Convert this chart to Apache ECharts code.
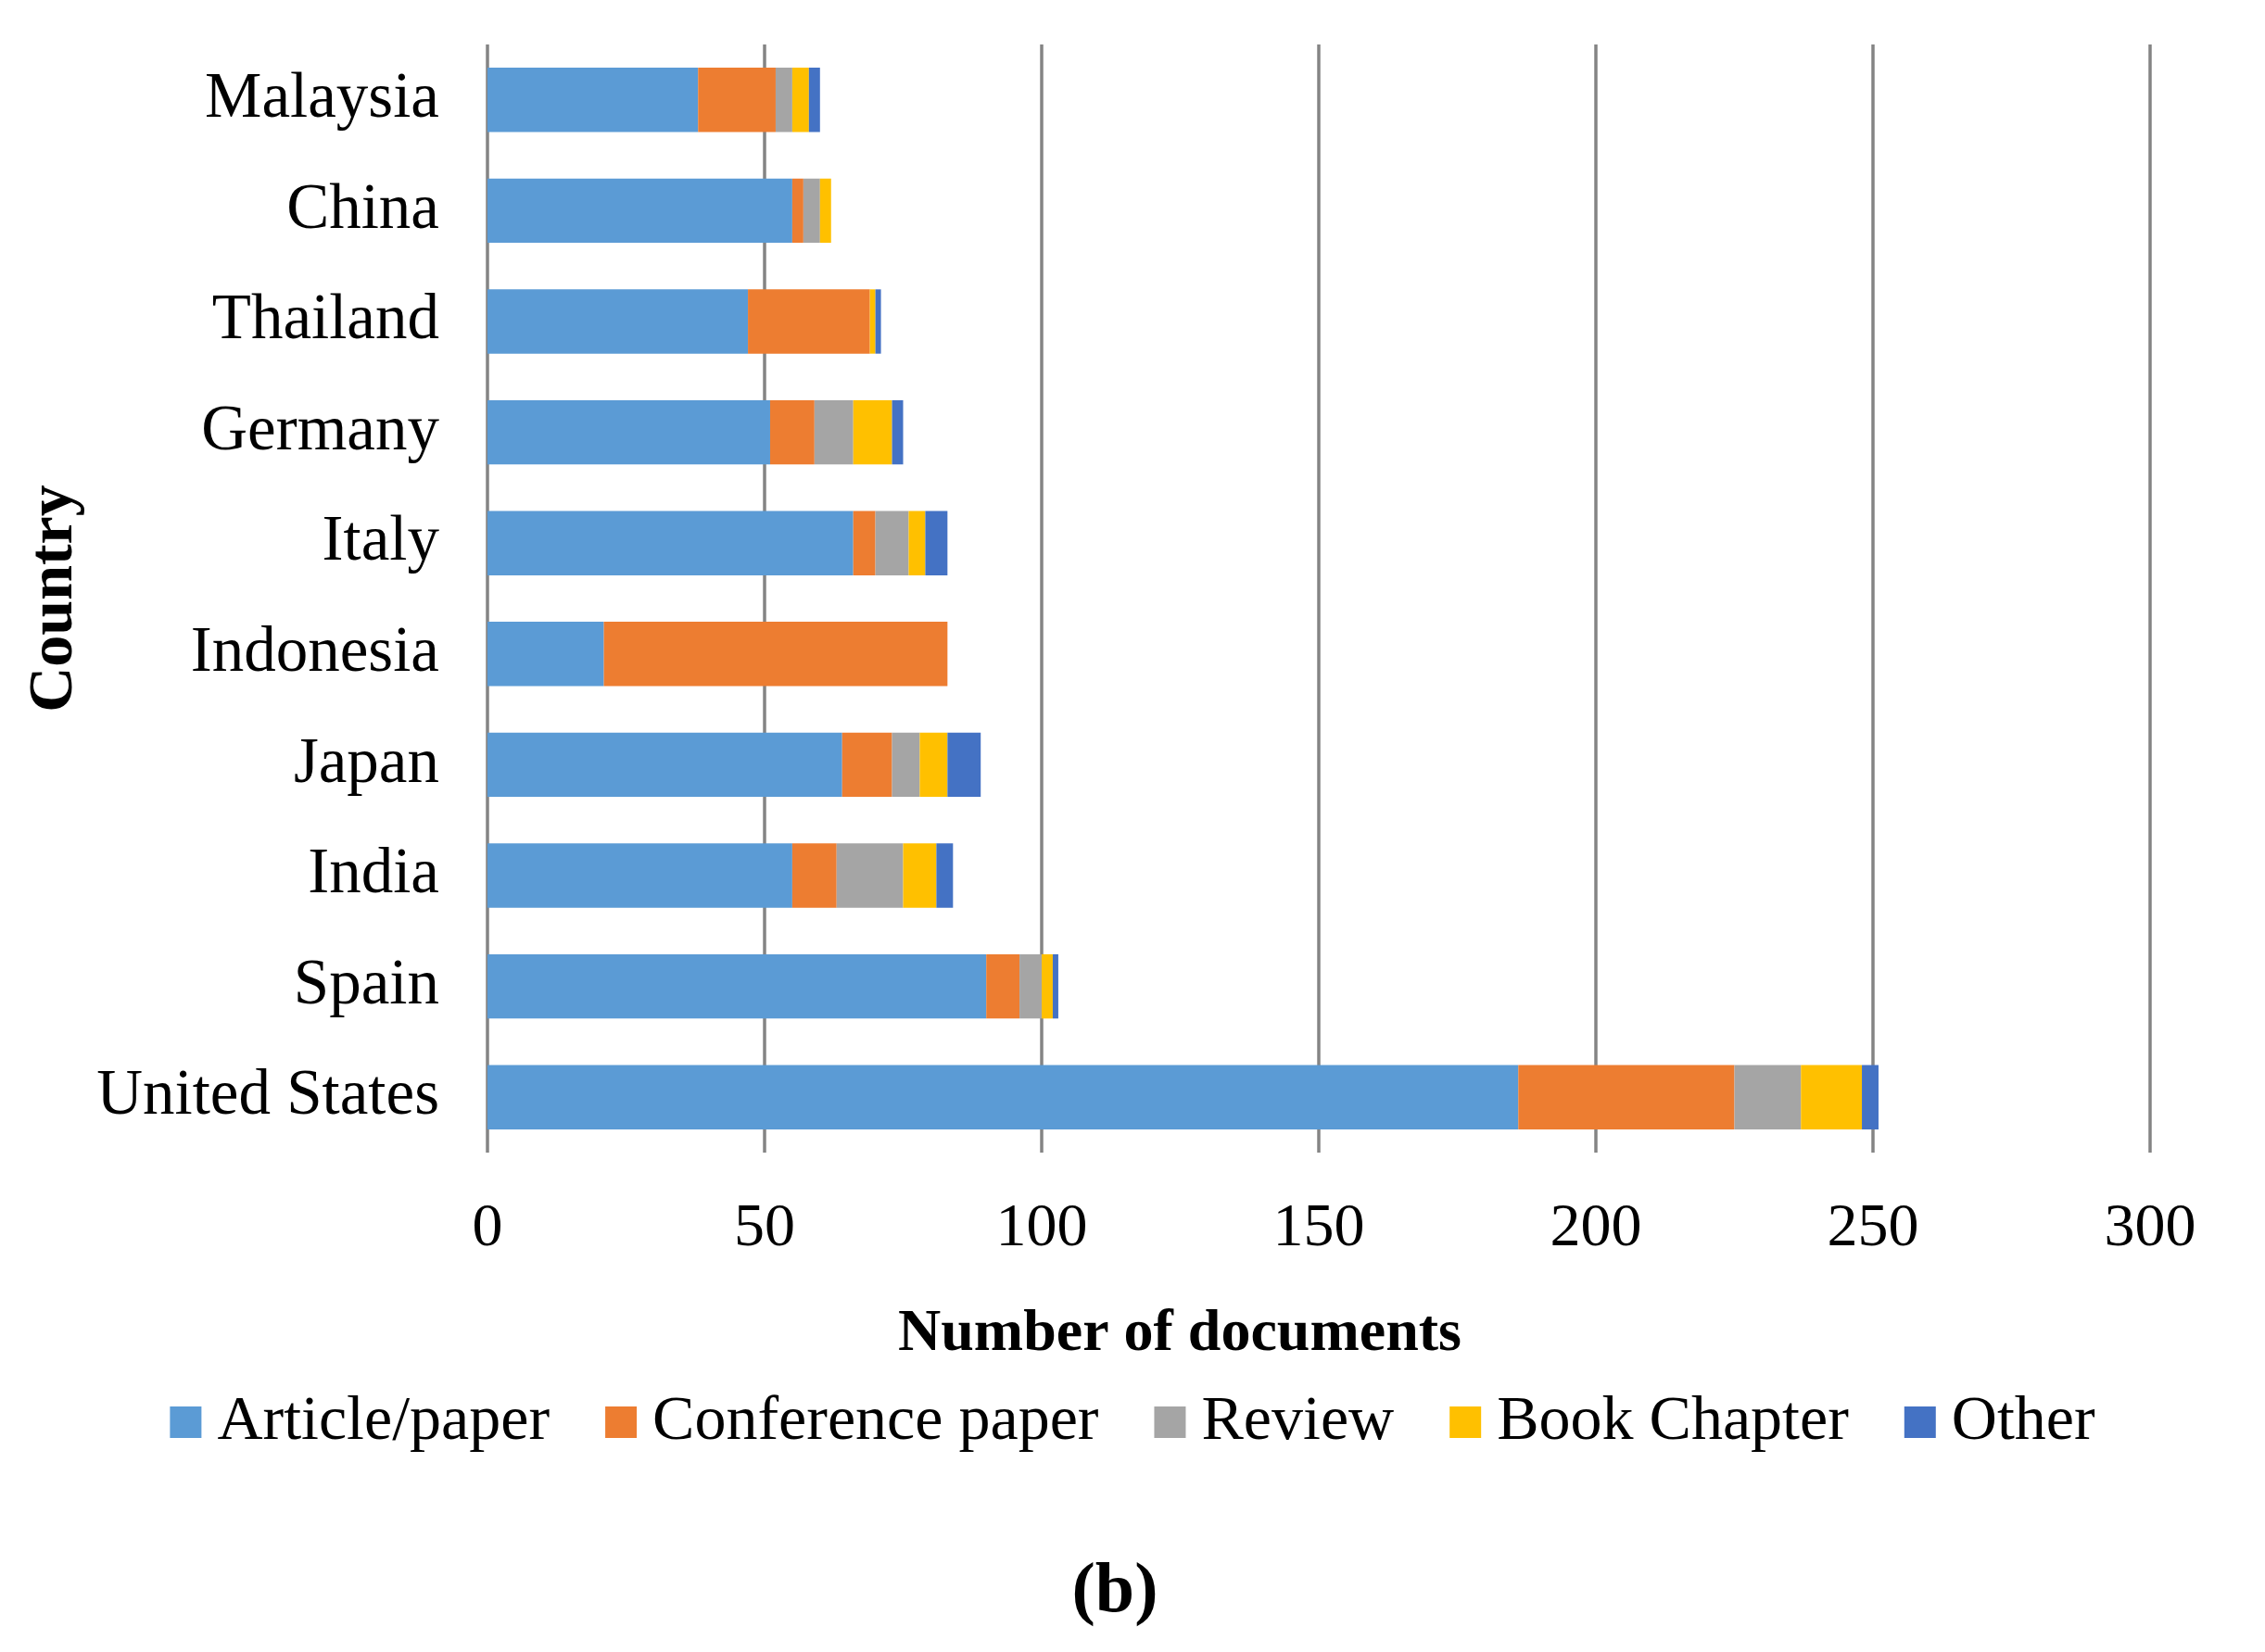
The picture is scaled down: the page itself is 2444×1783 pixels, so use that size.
<!DOCTYPE html>
<html>
<head>
<meta charset="utf-8">
<script src="https://cdn.jsdelivr.net/npm/echarts@6/dist/echarts.min.js"></script>
<style>
html,body{margin:0;padding:0;background:#fff;}
#chart{width:2444px;height:1783px;}
</style>
</head>
<body>
<div id="chart"></div>
<script>
// Categories listed bottom-to-top (ECharts category y-axis starts at the bottom)
var countries = ['United States','Spain','India','Japan','Indonesia','Italy','Germany','Thailand','China','Malaysia'];
var articlePaper    = [186, 90, 55, 64, 21, 66, 51, 47, 55, 38];
var conferencePaper = [ 39,  6,  8,  9, 62,  4,  8, 22,  2, 14];
var review          = [ 12,  4, 12,  5,  0,  6,  7,  0,  3,  3];
var bookChapter     = [ 11,  2,  6,  5,  0,  3,  7,  1,  2,  3];
var other           = [  3,  1,  3,  6,  0,  4,  2,  1,  0,  2];
var seriesNames = ['Article/paper','Conference paper','Review','Book Chapter','Other'];
var xTicks = [0, 50, 100, 150, 200, 250, 300];

var colors = ['#5B9BD5','#ED7D31','#A5A5A5','#FFC000','#4472C4'];
var seriesData = [articlePaper, conferencePaper, review, bookChapter, other];
var font = 'Liberation Serif, Times New Roman, serif';

var chart = echarts.init(document.getElementById('chart'), null, {renderer:'canvas'});
var series = seriesNames.map(function(name, i){
  return {
    name: name,
    type: 'bar',
    stack: 'total',
    data: seriesData[i],
    itemStyle: {color: colors[i]},
    barCategoryGap: '42%',
    emphasis: {disabled: true}
  };
});

chart.setOption({
  animation: false,
  backgroundColor: '#ffffff',
  color: colors,
  grid: {left: 526, right: 124, top: 48, bottom: 539, containLabel: false},
  xAxis: {
    type: 'value',
    min: xTicks[0],
    max: xTicks[xTicks.length - 1],
    interval: xTicks[1] - xTicks[0],
    axisLine: {show: false},
    axisTick: {show: false},
    splitLine: {show: true, lineStyle: {color: '#848484', width: 3.5}},
    axisLabel: {color: '#000', fontFamily: font, fontSize: 66, margin: 50},
    name: 'Number of documents',
    nameLocation: 'middle',
    nameGap: 164,
    nameTextStyle: {color: '#000', fontFamily: font, fontSize: 64, fontWeight: 'bold', padding: [0, 300, 0, 0]}
  },
  yAxis: {
    type: 'category',
    data: countries,
    axisLine: {show: false},
    axisTick: {show: false},
    splitLine: {show: false},
    axisLabel: {color: '#000', fontFamily: font, fontSize: 69, margin: 52, padding: [8, 0, 0, 0]},
    name: 'Country',
    nameLocation: 'middle',
    nameGap: 418,
    nameRotate: 90,
    nameTextStyle: {color: '#000', fontFamily: font, fontSize: 68, fontWeight: 'bold'}
  },
  legend: {
    data: seriesNames,
    left: 'center',
    top: 1496,
    icon: 'rect',
    itemWidth: 34,
    itemHeight: 34,
    itemGap: 60,
    textStyle: {color: '#000', fontFamily: font, fontSize: 68, padding: [0, 0, 0, 12]},
    selectedMode: false
  },
  graphic: [{
    type: 'text',
    x: 1203,
    y: 1719,
    style: {text: '(b)', font: 'bold 76px ' + font, fill: '#000', align: 'center', verticalAlign: 'middle'}
  }],
  series: series
});
</script>
</body>
</html>
